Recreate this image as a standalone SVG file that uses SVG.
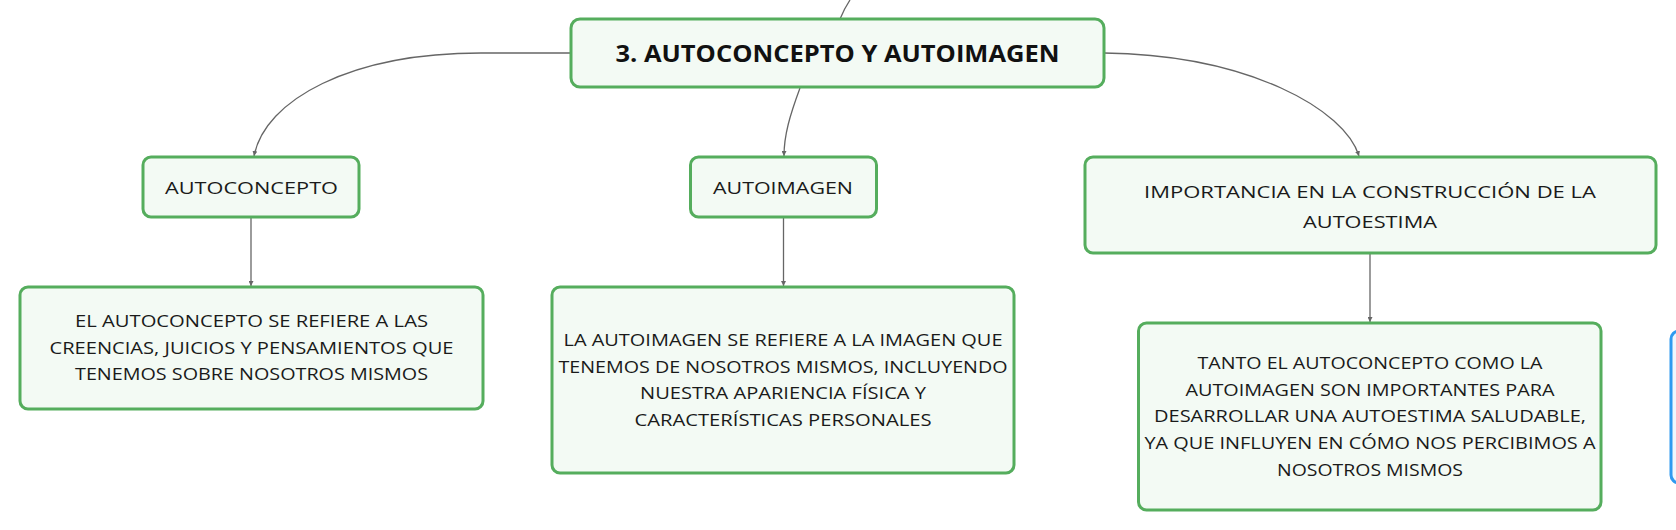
<svg xmlns="http://www.w3.org/2000/svg" width="1676" height="530" viewBox="0 0 1676 530">
<style>
.node{fill:#f3faf4;stroke:#55ad5d;stroke-width:3}
.blue{fill:#eef7fe;stroke:#2f9af0;stroke-width:3}
.edge{fill:none;stroke:#666;stroke-width:1.3}
text{font-family:"Open Sans","Liberation Sans",sans-serif;fill:#1a1a1a;text-anchor:middle}
.t{font-size:17px}
.title{font-size:24px;font-weight:bold;fill:#111}
</style>
<defs>
<marker id="arr" viewBox="0 0 10 10" refX="10" refY="5" markerWidth="5" markerHeight="5" orient="auto" markerUnits="userSpaceOnUse">
<path d="M0,0 L10,5 L0,10 z" fill="#666"/>
</marker>
</defs>
<rect width="1676" height="530" fill="#ffffff"/>
<g id="connectors">
<path class="edge" d="M840,19 C843,12 846,6 850,0"/>
<path class="edge" d="M571,53 H481 C350,53 265,100 254,156" marker-end="url(#arr)"/>
<path class="edge" d="M800,88 C790,115 784,135 784,156" marker-end="url(#arr)"/>
<path class="edge" d="M1104,53 C1250,55 1345,110 1359,156" marker-end="url(#arr)"/>
<path class="edge" d="M251,217 V286" marker-end="url(#arr)"/>
<path class="edge" d="M783.5,217 V286" marker-end="url(#arr)"/>
<path class="edge" d="M1370,253 V322" marker-end="url(#arr)"/>
</g>
<g id="main">
<rect class="node" x="571" y="19" width="533" height="68" rx="9"/>
<text class="title" x="837.5" y="62" textLength="444" lengthAdjust="spacingAndGlyphs">3. AUTOCONCEPTO Y AUTOIMAGEN</text>
</g>
<g id="autoconcepto">
<rect class="node" x="143" y="157" width="216" height="60" rx="8"/>
<text class="t" x="251.5" y="194" textLength="173" lengthAdjust="spacingAndGlyphs">AUTOCONCEPTO</text>
</g>
<g id="autoimagen">
<rect class="node" x="690.5" y="157" width="186" height="60" rx="8"/>
<text class="t" x="783" y="194" textLength="140" lengthAdjust="spacingAndGlyphs">AUTOIMAGEN</text>
</g>
<g id="importancia">
<rect class="node" x="1085" y="157" width="571" height="96" rx="8"/>
<text class="t" x="1370" y="198" textLength="452" lengthAdjust="spacingAndGlyphs">IMPORTANCIA EN LA CONSTRUCCIÓN DE LA</text>
<text class="t" x="1370" y="228" textLength="134" lengthAdjust="spacingAndGlyphs">AUTOESTIMA</text>
</g>
<g id="desc-autoconcepto">
<rect class="node" x="20" y="287" width="463" height="122" rx="8"/>
<text class="t" x="251.5" y="327" textLength="353" lengthAdjust="spacingAndGlyphs">EL AUTOCONCEPTO SE REFIERE A LAS</text>
<text class="t" x="251.5" y="353.5" textLength="404" lengthAdjust="spacingAndGlyphs">CREENCIAS, JUICIOS Y PENSAMIENTOS QUE</text>
<text class="t" x="251.5" y="380" textLength="353" lengthAdjust="spacingAndGlyphs">TENEMOS SOBRE NOSOTROS MISMOS</text>
</g>
<g id="desc-autoimagen">
<rect class="node" x="552" y="287" width="462" height="186" rx="8"/>
<text class="t" x="783" y="346" textLength="439" lengthAdjust="spacingAndGlyphs">LA AUTOIMAGEN SE REFIERE A LA IMAGEN QUE</text>
<text class="t" x="783" y="372.7" textLength="449" lengthAdjust="spacingAndGlyphs">TENEMOS DE NOSOTROS MISMOS, INCLUYENDO</text>
<text class="t" x="783" y="399.3" textLength="286" lengthAdjust="spacingAndGlyphs">NUESTRA APARIENCIA FÍSICA Y</text>
<text class="t" x="783" y="426" textLength="297" lengthAdjust="spacingAndGlyphs">CARACTERÍSTICAS PERSONALES</text>
</g>
<g id="desc-importancia">
<rect class="node" x="1138.5" y="323" width="462.5" height="187" rx="8"/>
<text class="t" x="1370" y="369" textLength="345" lengthAdjust="spacingAndGlyphs">TANTO EL AUTOCONCEPTO COMO LA</text>
<text class="t" x="1370" y="395.7" textLength="369" lengthAdjust="spacingAndGlyphs">AUTOIMAGEN SON IMPORTANTES PARA</text>
<text class="t" x="1370" y="422.3" textLength="432" lengthAdjust="spacingAndGlyphs">DESARROLLAR UNA AUTOESTIMA SALUDABLE,</text>
<text class="t" x="1370" y="449" textLength="451" lengthAdjust="spacingAndGlyphs">YA QUE INFLUYEN EN CÓMO NOS PERCIBIMOS A</text>
<text class="t" x="1370" y="475.7" textLength="186" lengthAdjust="spacingAndGlyphs">NOSOTROS MISMOS</text>
</g>
<g id="blue-node">
<rect class="blue" x="1671" y="331" width="40" height="152" rx="8"/>
</g>
</svg>
